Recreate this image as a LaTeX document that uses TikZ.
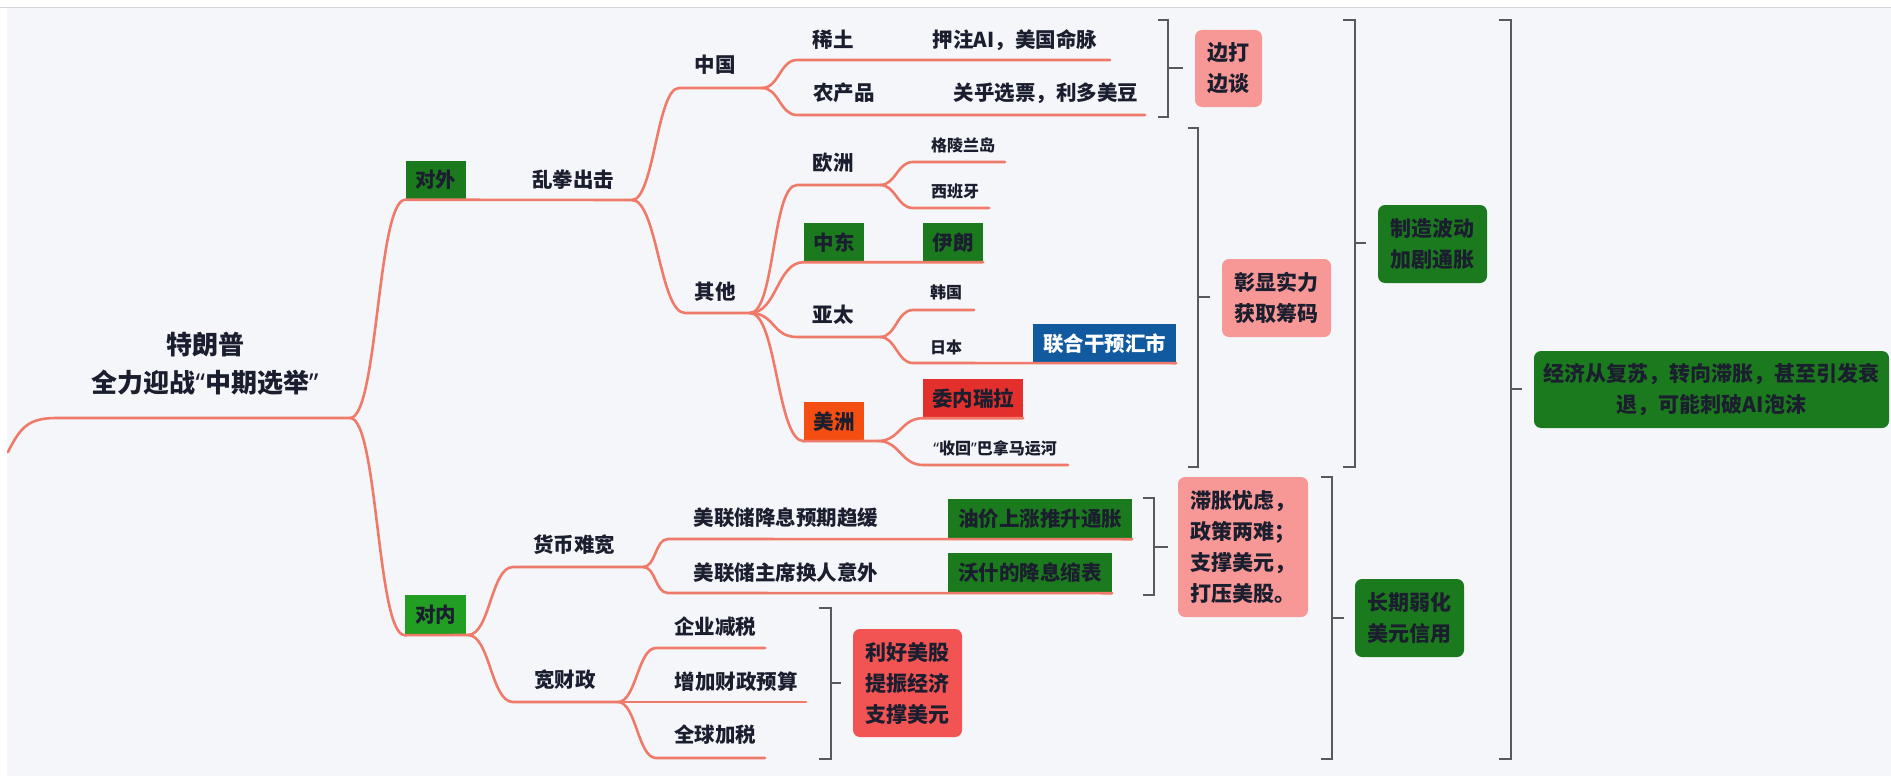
\documentclass[tikz,border=0pt]{standalone}
\usepackage{fontspec}
\setmainfont{Noto Sans CJK SC}
\newfontfamily\latq{Noto Sans}
\newcommand{\qlft}{{\latq “}}
\newcommand{\qrgt}{{\latq ”}}
\definecolor{bgc}{RGB}{245,246,250}
\definecolor{topc}{RGB}{208,211,218}
\definecolor{lc}{RGB}{240,122,105}
\definecolor{bc}{RGB}{88,88,96}
\definecolor{tc}{RGB}{27,30,46}
\definecolor{dg}{RGB}{28,122,30}
\definecolor{lg}{RGB}{34,158,34}
\definecolor{pk}{RGB}{247,152,150}
\definecolor{rd}{RGB}{242,84,84}
\definecolor{vr}{RGB}{228,48,44}
\definecolor{og}{RGB}{244,78,18}
\definecolor{bl}{RGB}{18,90,160}
\tikzset{
  line/.style={draw=lc, line width=2.6pt, line cap=round},
  brk/.style={draw=bc, line width=2.2pt},
  lbl/.style={inner sep=0pt, text=tc, font=\bfseries\fontsize{20.5}{24}\selectfont},
  sml/.style={inner sep=0pt, text=tc, font=\bfseries\fontsize{16}{19}\selectfont},
  sqbox/.style={lbl, minimum width=60pt, minimum height=39pt},
  rbox/.style={lbl, rounded corners=7pt, align=center, font=\bfseries\fontsize{21}{31}\selectfont}
}
\begin{document}
\begin{tikzpicture}[x=1pt,y=-1pt]
\useasboundingbox (0,0) rectangle (1891,776);
\fill[white] (0,0) rectangle (1891,776);
\fill[bgc] (7,8) rectangle (1891,776);
\draw[topc, line width=1.5pt] (0,7.5) -- (1891,7.5);

% root
\node[inner sep=0pt, text=tc, align=center, font=\bfseries\fontsize{26}{38}\selectfont] (root) at (205,364) {特朗普\\全力迎战\qlft 中期选举\qrgt};
\coordinate (tail) at (8,452);
\coordinate (root-l) at (56,418);
\coordinate (root-r) at (350,418);
\draw[line] (tail) .. controls +(12,-24) and +(-28,0) .. (root-l) -- (root-r);

% 对外
\node[sqbox, fill=dg] (dw) at (435.5,180) {对外};
\node[lbl] (lq) at (573,180) {乱拳出击};
\coordinate (lq-r) at (632,200);
\draw[line] (root-r) .. controls +(28,0) and +(-28,0) .. (dw.south west) -- (lq-r);

% 中国
\node[lbl] (zg) at (715,65) {中国};
\coordinate (zg-l) at (679,88); \coordinate (zg-r) at (762,88);
\draw[line] (lq-r) .. controls +(22,0) and +(-22,0) .. (zg-l) -- (zg-r);
\node[lbl] (qt) at (715,292) {其他};
\coordinate (qt-l) at (685,313); \coordinate (qt-r) at (750,313);
\draw[line] (lq-r) .. controls +(25,0) and +(-25,0) .. (qt-l) -- (qt-r);

\node[lbl] (xt) at (833,40) {稀土};
\node[lbl] (yz) at (1015,40) {押注AI，美国命脉};
\coordinate (xt-l) at (797,60); \coordinate (xt-r) at (1110,60);
\draw[line] (zg-r) .. controls +(17,0) and +(-17,0) .. (xt-l) -- (xt-r);
\node[lbl] (ncp) at (844,93) {农产品};
\node[lbl] (gh) at (1046,93) {关乎选票，利多美豆};
\coordinate (ncp-l) at (797,115); \coordinate (ncp-r) at (1145,115);
\draw[line] (zg-r) .. controls +(17,0) and +(-17,0) .. (ncp-l) -- (ncp-r);

% bracket 1
\coordinate (b1-t) at (1168,20); \coordinate (b1-b) at (1168,117); \coordinate (b1-m) at (1168,68);
\draw[brk] (b1-t) ++(-10,0) -- (b1-t) -- (b1-b) -- +(-10,0);
\draw[brk] (b1-m) -- +(15,0);
\node[rbox, fill=pk, minimum width=67pt, minimum height=77pt] (bd) at (1228.5,68.5) {边打\\边谈};

% 其他 children
\node[lbl] (oz) at (833,163) {欧洲};
\coordinate (oz-l) at (797,185); \coordinate (oz-r) at (880,185);
\draw[line] (qt-r) .. controls +(25,0) and +(-25,0) .. (oz-l) -- (oz-r);
\node[sml] (gl) at (963,145) {格陵兰岛};
\coordinate (gl-l) at (913,162); \coordinate (gl-r) at (1005,162);
\draw[line] (oz-r) .. controls +(16,0) and +(-16,0) .. (gl-l) -- (gl-r);
\node[sml] (xby) at (955,191) {西班牙};
\coordinate (xby-l) at (913,208); \coordinate (xby-r) at (989,208);
\draw[line] (oz-r) .. controls +(16,0) and +(-16,0) .. (xby-l) -- (xby-r);

\node[sqbox, fill=dg] (zd) at (834,242.5) {中东};
\node[sqbox, fill=dg] (yl) at (953,242.5) {伊朗};
\draw[line] (qt-r) .. controls +(27,0) and +(-27,0) .. (zd.south west) -- (yl.south east);

\node[lbl] (yt) at (833,315) {亚太};
\coordinate (yt-l) at (797,337); \coordinate (yt-r) at (880,337);
\draw[line] (qt-r) .. controls +(25,0) and +(-25,0) .. (yt-l) -- (yt-r);
\node[sml] (hg) at (946,292) {韩国};
\coordinate (hg-l) at (913,310); \coordinate (hg-r) at (974,310);
\draw[line] (yt-r) .. controls +(16,0) and +(-16,0) .. (hg-l) -- (hg-r);
\node[sml] (rb) at (946,347) {日本};
\coordinate (rb-l) at (913,363);
\node[sqbox, fill=bl, text=white, minimum width=143pt] (lh) at (1104.5,343.5) {联合干预汇市};
\draw[line] (yt-r) .. controls +(16,0) and +(-16,0) .. (rb-l) -- (lh.south east);

\node[sqbox, fill=og] (mz) at (834,421.5) {美洲};
\coordinate (mz-r) at (878,441);
\draw[line] (qt-r) .. controls +(27,0) and +(-27,0) .. (mz.south west) -- (mz-r);
\node[sqbox, fill=vr, minimum width=100pt] (wn) at (973,398.5) {委内瑞拉};
\draw[line] (mz-r) .. controls +(22,0) and +(-22,0) .. (wn.south west) -- (wn.south east);
\node[sml] (bnm) at (995,448) {\qlft 收回\qrgt 巴拿马运河};
\coordinate (bnm-l) at (923,465); \coordinate (bnm-r) at (1068,465);
\draw[line] (mz-r) .. controls +(22,0) and +(-22,0) .. (bnm-l) -- (bnm-r);

% bracket 2
\coordinate (b2-t) at (1198,128); \coordinate (b2-b) at (1198,467); \coordinate (b2-m) at (1198,297);
\draw[brk] (b2-t) ++(-10,0) -- (b2-t) -- (b2-b) -- +(-10,0);
\draw[brk] (b2-m) -- +(12,0);
\node[rbox, fill=pk, minimum width=109pt, minimum height=78pt] (zx) at (1276.5,298) {彰显实力\\获取筹码};

% bracket 3
\coordinate (b3-t) at (1355,20); \coordinate (b3-b) at (1355,467); \coordinate (b3-m) at (1355,243);
\draw[brk] (b3-t) ++(-12,0) -- (b3-t) -- (b3-b) -- +(-12,0);
\draw[brk] (b3-m) -- +(11,0);
\node[rbox, fill=dg, minimum width=109pt, minimum height=78pt] (zz) at (1432.5,244) {制造波动\\加剧通胀};

% bracket 4
\coordinate (b4-t) at (1511,20); \coordinate (b4-b) at (1511,759); \coordinate (b4-m) at (1511,389);
\draw[brk] (b4-t) ++(-12,0) -- (b4-t) -- (b4-b) -- +(-12,0);
\draw[brk] (b4-m) -- +(11,0);
\node[rbox, fill=dg, minimum width=355pt, minimum height=77pt] (jj) at (1711.5,389.5) {经济从复苏，转向滞胀，甚至引发衰\\退，可能刺破AI泡沫};

% 对内
\node[sqbox, fill=lg, minimum width=61pt, minimum height=40pt] (dn) at (435.5,615) {对内};
\coordinate (dn-r) at (468,635);
\draw[line] (root-r) .. controls +(28,0) and +(-28,0) .. (dn.south west) -- (dn-r);
\node[lbl] (hb) at (574,545) {货币难宽};
\coordinate (hb-l) at (513,567); \coordinate (hb-r) at (643,567);
\draw[line] (dn-r) .. controls +(22,0) and +(-22,0) .. (hb-l) -- (hb-r);
\node[lbl] (kc) at (565,680) {宽财政};
\coordinate (kc-l) at (513,702); \coordinate (kc-r) at (618,702);
\draw[line] (dn-r) .. controls +(22,0) and +(-22,0) .. (kc-l) -- (kc-r);

\node[lbl] (fed1) at (786,518) {美联储降息预期趋缓};
\coordinate (f1-l) at (668,539);
\node[sqbox, fill=dg, minimum width=184pt, minimum height=40pt] (yj) at (1040,519) {油价上涨推升通胀};
\draw[line] (hb-r) .. controls +(13,0) and +(-13,0) .. (f1-l) -- (yj.south east);
\node[lbl] (fed2) at (786,573) {美联储主席换人意外};
\coordinate (f2-l) at (668,593);
\node[sqbox, fill=dg, minimum width=164pt, minimum height=40pt] (ws) at (1030,573) {沃什的降息缩表};
\draw[line] (hb-r) .. controls +(13,0) and +(-13,0) .. (f2-l) -- (ws.south east);

% bracket 5
\coordinate (b5-t) at (1154,498); \coordinate (b5-b) at (1154,595); \coordinate (b5-m) at (1154,547);
\draw[brk] (b5-t) ++(-11,0) -- (b5-t) -- (b5-b) -- +(-11,0);
\draw[brk] (b5-m) -- +(14,0);
\node[rbox, fill=pk, align=left, minimum width=130pt, minimum height=140pt] (zz2) at (1243,547) {滞胀忧虑，\\政策两难；\\支撑美元，\\打压美股。};

% 宽财政 children
\node[lbl] (qy) at (715,627) {企业减税};
\coordinate (qy-l) at (656,648); \coordinate (qy-r) at (765,648);
\draw[line] (kc-r) .. controls +(18,0) and +(-18,0) .. (qy-l) -- (qy-r);
\node[lbl] (zj) at (736,682) {增加财政预算};
\coordinate (zj-r) at (806,702);
\draw[line] (kc-r) -- (zj-r);
\node[lbl] (qq) at (715,735) {全球加税};
\coordinate (qq-l) at (656,758); \coordinate (qq-r) at (765,758);
\draw[line] (kc-r) .. controls +(18,0) and +(-18,0) .. (qq-l) -- (qq-r);

% bracket 6
\coordinate (b6-t) at (831,608); \coordinate (b6-b) at (831,759); \coordinate (b6-m) at (831,683);
\draw[brk] (b6-t) ++(-12,0) -- (b6-t) -- (b6-b) -- +(-12,0);
\draw[brk] (b6-m) -- +(10,0);
\node[rbox, fill=rd, minimum width=109pt, minimum height=108pt] (lh2) at (907.5,683) {利好美股\\提振经济\\支撑美元};

% bracket 7
\coordinate (b7-t) at (1332,477); \coordinate (b7-b) at (1332,759); \coordinate (b7-m) at (1332,618);
\draw[brk] (b7-t) ++(-11,0) -- (b7-t) -- (b7-b) -- +(-11,0);
\draw[brk] (b7-m) -- +(12,0);
\node[rbox, fill=dg, minimum width=109pt, minimum height=78pt] (cq) at (1409.5,618) {长期弱化\\美元信用};
\end{tikzpicture}
\end{document}
